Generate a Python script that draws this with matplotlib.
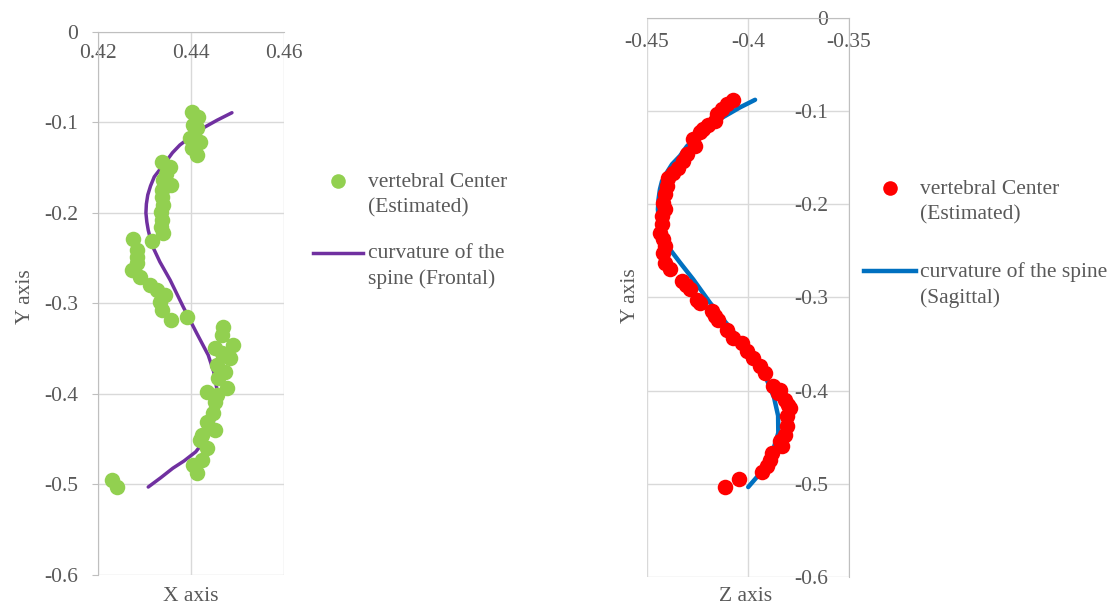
import matplotlib.pyplot as plt
from matplotlib.lines import Line2D
from matplotlib.legend_handler import HandlerLine2D

plt.rcParams['font.family'] = ['Liberation Serif', 'DejaVu Serif']
plt.rcParams['axes.unicode_minus'] = False

# frontal plane: estimated vertebral centers (x, y)
front_x = [0.4402, 0.4415, 0.4404, 0.4413, 0.4398, 0.4419, 0.4402, 0.4412,
           0.4337, 0.4355, 0.4346, 0.4358, 0.4340, 0.4338, 0.4338, 0.4340,
           0.4335, 0.4338, 0.4335, 0.4340, 0.4316, 0.4275, 0.4284, 0.4283,
           0.4283, 0.4272, 0.4290, 0.4312, 0.4326, 0.4344, 0.4333, 0.4337,
           0.4358, 0.4391, 0.4469, 0.4466, 0.4490, 0.4452, 0.4466, 0.4484,
           0.4455, 0.4473, 0.4458, 0.4477, 0.4434, 0.4455, 0.4452, 0.4447,
           0.4434, 0.4452, 0.4423, 0.4419, 0.4434, 0.4423, 0.4404, 0.4412,
           0.4229, 0.4240]
front_y = [-0.0881, -0.0939, -0.1028, -0.1061, -0.1171, -0.1215, -0.1282, -0.1359,
           -0.1433, -0.1492, -0.1570, -0.1690, -0.1635, -0.1746, -0.1823, -0.1912,
           -0.1989, -0.2077, -0.2155, -0.2221, -0.2309, -0.2287, -0.2409, -0.2486,
           -0.2552, -0.2630, -0.2707, -0.2796, -0.2851, -0.2906, -0.2980, -0.3072,
           -0.3182, -0.3146, -0.3256, -0.3348, -0.3459, -0.3492, -0.3547, -0.3602,
           -0.3680, -0.3754, -0.3823, -0.3934, -0.3975, -0.4011, -0.4085, -0.4210,
           -0.4306, -0.4398, -0.4453, -0.4508, -0.4597, -0.4729, -0.4785, -0.4873,
           -0.4950, -0.5024]

# frontal plane: fitted curvature
front_curve_x = [0.4488, 0.4456, 0.4426, 0.4400, 0.4376, 0.4360, 0.4346, 0.4333,
                 0.4321, 0.4313, 0.4307, 0.4304, 0.4303, 0.4305, 0.4308, 0.4316,
                 0.4333, 0.4355, 0.4383, 0.4412, 0.4437, 0.4449, 0.4456, 0.4457,
                 0.4453, 0.4445, 0.4430, 0.4410, 0.4385, 0.4361, 0.4335, 0.4308]
front_curve_y = [-0.0892, -0.0975, -0.1061, -0.1155, -0.1249, -0.1335, -0.1433, -0.1520,
                 -0.1600, -0.1700, -0.1800, -0.1900, -0.2000, -0.2100, -0.2190, -0.2354,
                 -0.2540, -0.2740, -0.3035, -0.3326, -0.3570, -0.3757, -0.3956, -0.4080,
                 -0.4220, -0.4360, -0.4510, -0.4640, -0.4740, -0.4820, -0.4925, -0.5028]

# sagittal plane: estimated vertebral centers (z, y)
sag_z = [-0.4073, -0.4102, -0.4130, -0.4155, -0.4163, -0.4198, -0.4221, -0.4238,
         -0.4271, -0.4262, -0.4303, -0.4320, -0.4345, -0.4370, -0.4395, -0.4402,
         -0.4411, -0.4419, -0.4411, -0.4427, -0.4427, -0.4436, -0.4419, -0.4411,
         -0.4419, -0.4411, -0.4386, -0.4328, -0.4307, -0.4287, -0.4254, -0.4238,
         -0.4180, -0.4163, -0.4147, -0.4105, -0.4073, -0.4031, -0.4006, -0.3974,
         -0.3941, -0.3916, -0.3875, -0.3850, -0.3842, -0.3817, -0.3800, -0.3792,
         -0.3808, -0.3808, -0.3817, -0.3842, -0.3833, -0.3883, -0.3891, -0.3907,
         -0.3932, -0.4043, -0.4114]
sag_y = [-0.0878, -0.0925, -0.0978, -0.1032, -0.1104, -0.1151, -0.1194, -0.1229,
         -0.1301, -0.1373, -0.1462, -0.1534, -0.1605, -0.1659, -0.1713, -0.1803,
         -0.1892, -0.1982, -0.2054, -0.2126, -0.2215, -0.2304, -0.2376, -0.2448,
         -0.2519, -0.2627, -0.2699, -0.2825, -0.2871, -0.2914, -0.3022, -0.3057,
         -0.3147, -0.3194, -0.3237, -0.3344, -0.3433, -0.3487, -0.3577, -0.3648,
         -0.3739, -0.3810, -0.3954, -0.4025, -0.3989, -0.4097, -0.4151, -0.4186,
         -0.4276, -0.4384, -0.4473, -0.4545, -0.4599, -0.4670, -0.4742, -0.4814,
         -0.4868, -0.4949, -0.5029]

# sagittal plane: fitted curvature
sag_curve_z = [-0.3965, -0.4040, -0.4124, -0.4198, -0.4254, -0.4302, -0.4337, -0.4376,
               -0.4402, -0.4426, -0.4436, -0.4443, -0.4446, -0.4441, -0.4426, -0.4386,
               -0.4337, -0.4271, -0.4188, -0.4114, -0.4040, -0.3965, -0.3907, -0.3871,
               -0.3851, -0.3850, -0.3875, -0.3916, -0.3955, -0.3999]
sag_curve_y = [-0.0878, -0.0960, -0.1065, -0.1161, -0.1280, -0.1376, -0.1481, -0.1570,
               -0.1659, -0.1753, -0.1839, -0.1946, -0.2054, -0.2183, -0.2323, -0.2484,
               -0.2624, -0.2806, -0.3057, -0.3258, -0.3452, -0.3667, -0.3882, -0.4075,
               -0.4269, -0.4452, -0.4634, -0.4814, -0.4925, -0.5035]

y_ticks = [0, -0.1, -0.2, -0.3, -0.4, -0.5, -0.6]
y_labels = ['0', '-0.1', '-0.2', '-0.3', '-0.4', '-0.5', '-0.6']
x_ticks_front = [0.42, 0.44, 0.46]
x_labels_front = ['0.42', '0.44', '0.46']
x_ticks_sag = [-0.45, -0.4, -0.35]
x_labels_sag = ['-0.45', '-0.4', '-0.35']

text_col = '#595959'
grid_col = '#d9d9d9'
axis_col = '#bfbfbf'
fs = 15.5


class FirstLineHandler(HandlerLine2D):
    # keep the legend key beside the first line of a two-line label
    def create_artists(self, legend, orig_handle, xdescent, ydescent, width,
                       height, fontsize, trans):
        return super().create_artists(legend, orig_handle, xdescent,
                                      ydescent - 1.25 * fontsize, width, height,
                                      fontsize, trans)


fig = plt.figure(figsize=(11.19, 6.06), dpi=100)

# ---- frontal
ax1 = fig.add_axes([0.0876, 0.0512, 0.1662, 0.896])
ax1.plot(front_curve_x, front_curve_y, color='#7030a0', lw=2.5,
         solid_capstyle='round', solid_joinstyle='round', zorder=2)
ax1.scatter(front_x, front_y, s=125, color='#92d050', lw=0, zorder=3)
ax1.set_xlim(0.42, 0.46)
ax1.set_ylim(-0.6, 0)
ax1.set_xticks(x_ticks_front, x_labels_front)
ax1.set_yticks(y_ticks, y_labels)
ax1.spines['bottom'].set_position(('data', 0))
ax1.spines['top'].set_visible(False)
ax1.spines['right'].set_visible(False)
for s in ['bottom', 'left']:
    ax1.spines[s].set_color(axis_col)
ax1.tick_params(axis='x', length=0, pad=8.5, labelsize=fs, labelcolor=text_col)
ax1.tick_params(axis='y', length=4.5, width=0.8, color=axis_col, pad=10,
                labelsize=fs, labelcolor=text_col)
ax1.grid(color=grid_col, lw=1)
ax1.set_axisbelow(True)
ax1.set_xlabel('X axis', fontsize=fs, color=text_col)
ax1.xaxis.set_label_coords(0.5, -0.022)
ax1.set_ylabel('Y axis', fontsize=fs, color=text_col)
ax1.yaxis.set_label_coords(-0.34, 0.512)

h1 = Line2D([], [], ls='none', marker='o', markersize=10.5,
            markerfacecolor='#92d050', markeredgewidth=0)
h2 = Line2D([], [], color='#7030a0', lw=2.5)
leg1 = ax1.legend([h1, h2], ['vertebral Center\n(Estimated)', 'curvature of the\nspine (Frontal)'],
                  handler_map={Line2D: FirstLineHandler()}, loc='upper left',
                  bbox_to_anchor=(0.2797, 0.7145), bbox_transform=fig.transFigure,
                  frameon=False, fontsize=fs, handlelength=2.32, handletextpad=0.25,
                  labelspacing=1.26, borderpad=0, borderaxespad=0, labelcolor=text_col)
for t in leg1.get_texts():
    t.set_linespacing(1.42)

# ---- sagittal
ax2 = fig.add_axes([0.5782, 0.0479, 0.1805, 0.9224])
ax2.plot(sag_curve_z, sag_curve_y, color='#0070c0', lw=3.2,
         solid_capstyle='round', solid_joinstyle='round', zorder=2)
ax2.scatter(sag_z, sag_y, s=125, color='#ff0000', lw=0, zorder=3)
ax2.set_xlim(-0.45, -0.35)
ax2.set_ylim(-0.6, 0)
ax2.set_xticks(x_ticks_sag, x_labels_sag)
ax2.set_yticks(y_ticks, y_labels)
ax2.spines['bottom'].set_position(('data', 0))
ax2.spines['left'].set_position(('data', -0.35))
ax2.spines['top'].set_visible(False)
ax2.spines['right'].set_visible(False)
for s in ['bottom', 'left']:
    ax2.spines[s].set_color(axis_col)
ax2.tick_params(axis='x', length=0, pad=10.5, labelsize=fs, labelcolor=text_col)
ax2.tick_params(axis='y', length=0, pad=15, labelsize=fs, labelcolor=text_col)
ax2.grid(color=grid_col, lw=1)
ax2.set_axisbelow(True)
ax2.set_xlabel('Z axis', fontsize=fs, color=text_col)
ax2.xaxis.set_label_coords(0.49, -0.018)
ax2.set_ylabel('Y axis', fontsize=fs, color=text_col)
ax2.yaxis.set_label_coords(-0.035, 0.503)

h3 = Line2D([], [], ls='none', marker='o', markersize=10.5,
            markerfacecolor='#ff0000', markeredgewidth=0)
h4 = Line2D([], [], color='#0070c0', lw=3.2)
leg2 = ax2.legend([h3, h4], ['vertebral Center\n(Estimated)', 'curvature of the spine\n(Sagittal)'],
                  handler_map={Line2D: FirstLineHandler()}, loc='upper left',
                  bbox_to_anchor=(0.7721, 0.703), bbox_transform=fig.transFigure,
                  frameon=False, fontsize=fs, handlelength=2.42, handletextpad=0.2,
                  labelspacing=1.74, borderpad=0, borderaxespad=0, labelcolor=text_col)
for t in leg2.get_texts():
    t.set_linespacing(1.42)

fig.savefig('out.png', dpi=100)
